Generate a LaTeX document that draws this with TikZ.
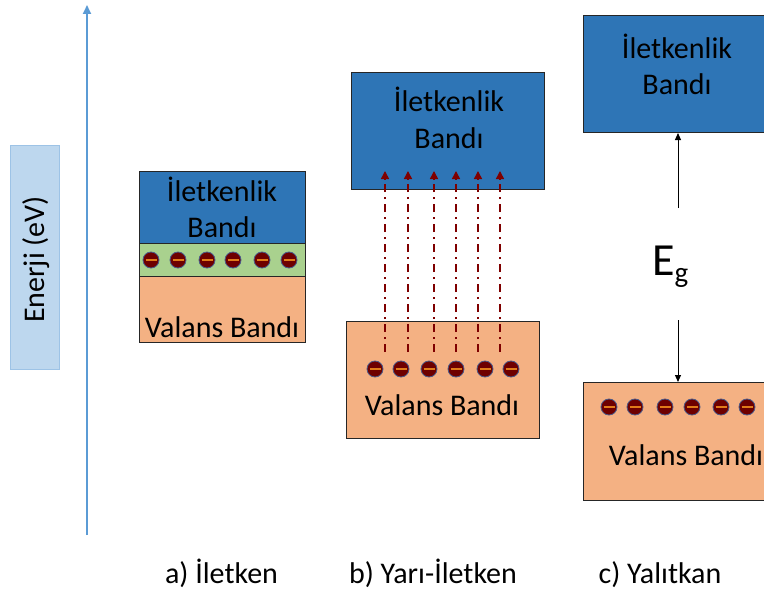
\documentclass[tikz,border=0pt]{standalone}
\usepackage{fontspec}
\setmainfont{Carlito}
\usetikzlibrary{arrows.meta}
\definecolor{bandblue}{HTML}{2E75B6}
\definecolor{bandorange}{HTML}{F4B183}
\definecolor{bandgreen}{HTML}{A9D18E}
\definecolor{axisblue}{HTML}{5B9BD5}
\definecolor{labelfill}{HTML}{BDD7EE}
\definecolor{labeldraw}{HTML}{9DC3E6}
\definecolor{efill}{HTML}{6E0000}
\definecolor{eedge}{HTML}{4A5A8A}
\definecolor{eminus}{HTML}{E07B1A}
\definecolor{jump}{HTML}{7F0000}
\begin{document}
\begin{tikzpicture}[x=1pt,y=-1pt,
  txt/.style={font=\fontsize{30}{36}\selectfont, inner sep=0, anchor=base, align=center},
  band/.style={draw=black!85, line width=1, inner sep=0, anchor=north west},
  electron/.style={circle, minimum size=16, inner sep=0, fill=efill,
    draw=eedge, line width=0.8,
    path picture={\draw[eminus, line width=1.4]
      ([xshift=-5.5]path picture bounding box.center) --
      ([xshift=5.5]path picture bounding box.center);}},
  jumparrow/.style={jump, line width=1.5, dash pattern=on 8 off 5 on 2 off 5,
    -{Triangle[length=8,width=8]}},
  gaparrow/.style={black, line width=1, -{Triangle[length=7,width=6]}},
  axis/.style={axisblue, line width=2, -{Triangle[length=9,width=8]}}]
\clip (0,0) rectangle (764,594);
\fill[white] (0,0) rectangle (764,594);

% energy axis with its label
\coordinate (ax-bot) at (87,535);
\coordinate (ax-top) at (87,5);
\draw[axis] (ax-bot) -- (ax-top);
\node[draw=labeldraw, fill=labelfill, line width=1, minimum width=49,
  minimum height=224, inner sep=0] (axlabel) at (34.5,257) {};
\node[txt, rotate=90, anchor=base west] (axtext) at (45,323) {Enerji (eV)};

% a) conductor
\node[band, fill=bandblue, minimum width=166, minimum height=72] (a-cb) at (139,171) {};
\node[band, fill=bandgreen, minimum width=166, minimum height=33] (a-gb) at (139,243) {};
\node[band, fill=bandorange, minimum width=166, minimum height=66] (a-vb) at (139,276) {};
\node[txt] (a-ct) at (222,237) {İletkenlik\\Bandı};
\node[txt] (a-vt) at (222,337) {Valans Bandı};
\foreach \x [count=\i] in {151,178,207,233,262,289}
  \node[electron] (a-e\i) at (\x,260) {};

% b) semiconductor
\node[band, fill=bandblue, minimum width=193, minimum height=117] (b-cb) at (351,72) {};
\node[txt] (b-ct) at (449,148) {İletkenlik\\Bandı};
\node[band, fill=bandorange, minimum width=193, minimum height=117] (b-vb) at (346,321) {};
\node[txt] (b-vt) at (442,415) {Valans Bandı};
\foreach \x [count=\i] in {375,401,429,456,485,511}
  \node[electron] (b-e\i) at (\x,369) {};
\foreach \x [count=\i] in {385,408,434,456,478,500} {
  \coordinate (b-s\i) at (\x,352);
  \coordinate (b-t\i) at (\x,171);
  \draw[jumparrow] (b-s\i) -- (b-t\i);
}

% c) insulator
\node[band, fill=bandblue, minimum width=193, minimum height=117] (c-cb) at (583,15) {};
\node[txt] (c-ct) at (677,95) {İletkenlik\\Bandı};
\node[band, fill=bandorange, minimum width=193, minimum height=118] (c-vb) at (583,382) {};
\node[txt] (c-vt) at (686,465) {Valans Bandı};
\foreach \x [count=\i] in {609,635,665,692,721,747}
  \node[electron] (c-e\i) at (\x,407) {};
\coordinate (c-up) at (678,208);
\coordinate (c-down) at (678,320);
\draw[gaparrow] (c-up) -- (c-up |- c-cb.south);
\draw[gaparrow] (c-down) -- (c-down |- c-vb.north);
\node[inner sep=0, anchor=base west] (c-eg) at (652,275)
  {{\fontsize{46}{46}\selectfont E}{\fontsize{29}{29}\selectfont\raisebox{-7.5pt}{g}}};

% captions
\node[txt] (cap-a) at (221.5,583) {a) İletken};
\node[txt] (cap-b) at (433,583) {b) Yarı-İletken};
\node[txt] (cap-c) at (660,583) {c) Yalıtkan};
\end{tikzpicture}
\end{document}
